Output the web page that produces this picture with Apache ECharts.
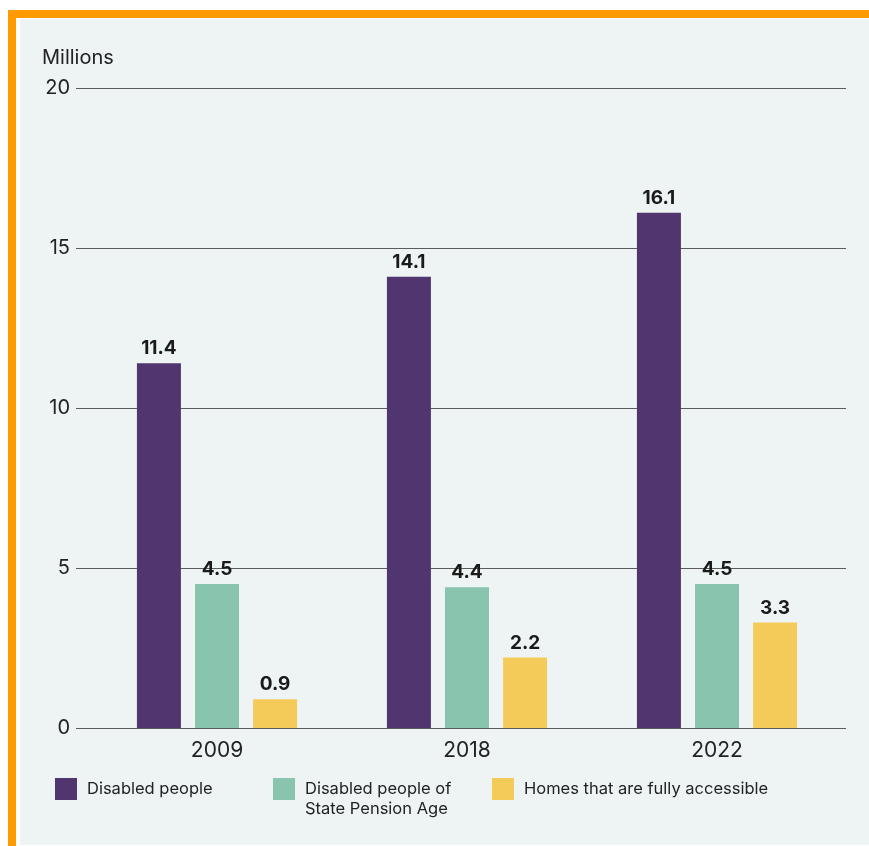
<!DOCTYPE html>
<html>
<head>
<meta charset="utf-8">
<script src="https://cdn.jsdelivr.net/npm/echarts@6/dist/echarts.min.js"></script>
<style>
  html, body { margin: 0; padding: 0; background: #ffffff; }
  #frame { position: absolute; left: 8px; top: 10px; width: 861px; height: 836px;
           border-top: 8px solid #ff9b00; border-left: 8px solid #ff9b00; box-sizing: border-box; }
  #panel { position: absolute; left: 20px; top: 19px; width: 849px; height: 826px; background: #eef4f4; }
  #main { position: absolute; left: 0; top: 0; width: 869px; height: 846px; }
</style>
</head>
<body>
<div id="frame"></div>
<div id="panel"></div>
<div id="main"></div>
<script>
// data
var years = ['2009', '2018', '2022'];
var disabledPeople = [11.4, 14.1, 16.1];
var disabledPensionAge = [4.5, 4.4, 4.5];
var accessibleHomes = [0.9, 2.2, 3.3];
var seriesNames = ['Disabled people', 'Disabled people of\nState Pension Age', 'Homes that are fully accessible'];
var colors = ['#50356f', '#88c4ae', '#f4cb59'];

var font = 'Inter';
var chart = echarts.init(document.getElementById('main'));

function barSeries(i, values) {
    return {
        name: seriesNames[i],
        type: 'bar',
        xAxisIndex: 1,
        yAxisIndex: 1,
        data: values,
        barWidth: 44,
        barGap: '32%',
        itemStyle: { color: colors[i] },
        label: {
            show: true,
            position: 'top',
            distance: 5,
            fontFamily: font,
            fontWeight: 'bold',
            fontSize: 19,
            color: '#1a1a1a',
            formatter: function (p) { return p.value.toFixed(1); }
        }
    };
}

// one legend per item; the two-line one gets an empty first line so its text starts level with the square
function legendFor(i, left, top, twoLines) {
    return {
        left: left,
        top: top,
        padding: 0,
        data: [seriesNames[i]],
        icon: 'rect',
        itemWidth: 22,
        itemHeight: 22,
        selectedMode: false,
        formatter: function (name) { return twoLines ? '\n' + name : name; },
        textStyle: { fontFamily: font, fontSize: 16.5, color: '#222', lineHeight: 20, padding: [0, 0, 0, 5] }
    };
}

chart.setOption({
    backgroundColor: 'transparent',
    animation: false,
    title: {
        text: 'Millions',
        left: 37,
        top: 43,
        textStyle: { fontFamily: font, fontSize: 20, fontWeight: 'normal', color: '#222' }
    },
    legend: [
        legendFor(0, 55, 778, false),
        legendFor(1, 273, 759, true),
        legendFor(2, 492, 778, false)
    ],
    grid: [
        { left: 76, right: 23, top: 88, bottom: 118 },
        { left: 92, right: 27, top: 88, bottom: 118 }
    ],
    xAxis: [
        { type: 'value', gridIndex: 0, show: false },
        {
            type: 'category', gridIndex: 1, data: years,
            axisLine: { show: false }, axisTick: { show: false },
            axisLabel: { fontFamily: font, fontSize: 21, color: '#222', margin: 12 }
        }
    ],
    yAxis: [
        {
            type: 'value', gridIndex: 0, min: 0, max: 20, interval: 5,
            axisLine: { show: false }, axisTick: { show: false },
            axisLabel: { fontFamily: font, fontSize: 20, color: '#222', margin: 6 },
            splitLine: { lineStyle: { color: '#5c5c5c', width: 1 } }
        },
        { type: 'value', gridIndex: 1, min: 0, max: 20, show: false }
    ],
    series: [
        barSeries(0, disabledPeople),
        barSeries(1, disabledPensionAge),
        barSeries(2, accessibleHomes)
    ]
});
</script>
</body>
</html>
